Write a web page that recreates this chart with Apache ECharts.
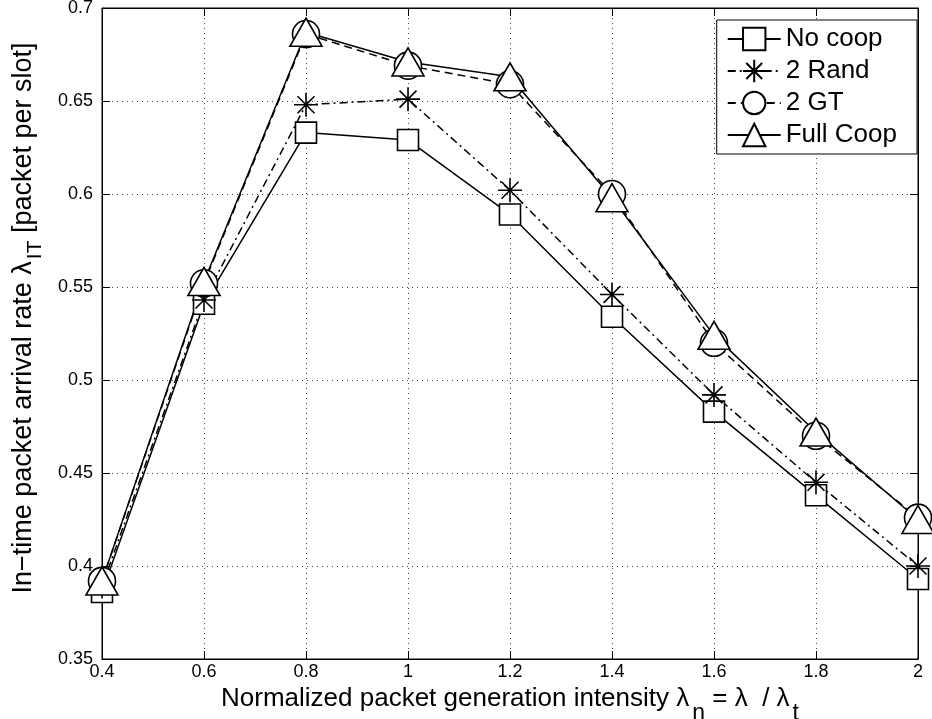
<!DOCTYPE html>
<html>
<head>
<meta charset="utf-8">
<script src="https://cdn.jsdelivr.net/npm/echarts@6/dist/echarts.min.js"></script>
<style>html,body{margin:0;padding:0;background:#fff;}#c{width:932px;height:719px;}</style>
</head>
<body>
<div id="c"></div>
<script>
const xValues = [0.4, 0.6, 0.8, 1.0, 1.2, 1.4, 1.6, 1.8, 2.0];
const noCoop   = [0.386, 0.541, 0.633, 0.629, 0.589, 0.534, 0.483, 0.438, 0.393];
const rand2    = [0.389, 0.543, 0.648, 0.651, 0.602, 0.546, 0.492, 0.445, 0.400];
const gt2      = [0.392, 0.552, 0.686, 0.669, 0.659, 0.600, 0.520, 0.470, 0.426];
const fullCoop = [0.392, 0.553, 0.687, 0.671, 0.663, 0.598, 0.524, 0.472, 0.425];
const seriesNames = ['No coop', '2 Rand', '2 GT', 'Full Coop'];
const xTitle = 'Normalized packet generation intensity λ{sub|n} = λ  / λ{sub|t}';
const yTitle = 'In−time packet arrival rate λ{sub|IT} [packet per slot]';

const FONT = "'Liberation Sans', Arial, Helvetica, sans-serif";
const asterisk = 'path://M10,0L10,20M0,10L20,10M2.93,2.93L17.07,17.07M2.93,17.07L17.07,2.93';

function pairs(ys){ return xValues.map((x,i)=>[x, ys[i]]); }

function mk(name, data, symbol, size, dash){
  return {
    name: name, type: 'line', data: pairs(data),
    symbol: symbol, symbolSize: size,
    xAxisIndex: 0, yAxisIndex: 0,
    color: '#000',
    lineStyle: {color: '#000', width: 1.5, type: dash},
    itemStyle: {color: '#fff', borderColor: '#000', borderWidth: 1.6},
    emphasis: {disabled: true},
    animation: false
  };
}

const chart = echarts.init(document.getElementById('c'), null, {renderer: 'canvas'});
const gridLine = {show: true, lineStyle: {color: '#444', type: [1, 4], width: 1}};
chart.setOption({
  backgroundColor: '#fff',
  textStyle: {fontFamily: FONT},
  grid: {left: 102, right: 14, top: 8, bottom: 60, show: true, borderColor: '#000', borderWidth: 1,
         containLabel: false, outerBoundsMode: 'none'},
  legend: {
    data: seriesNames,
    orient: 'vertical', right: 15, top: 20,
    itemWidth: 53, itemHeight: 28, itemGap: 6,
    padding: [6, 20, 6, 10],
    backgroundColor: '#fff', borderColor: '#000', borderWidth: 1,
    textStyle: {fontSize: 26, color: '#000', fontFamily: FONT}
  },
  graphic: [{
    type: 'text', rotation: Math.PI / 2, x: 24, y: 318, silent: true,
    style: {
      text: yTitle, align: 'center', verticalAlign: 'middle',
      fill: '#000', fontSize: 27, fontFamily: FONT,
      rich: {sub: {fontSize: 21, fill: '#000', fontFamily: FONT, padding: [22, 0, 0, 2]}}
    }
  }],
  xAxis: [{
    type: 'value', min: 0.4, max: 2, interval: 0.2,
    axisLine: {show: true, lineStyle: {color: '#000'}},
    axisTick: {show: true, inside: true, length: 8, lineStyle: {color: '#000'}},
    axisLabel: {color: '#000', fontSize: 18, margin: 4, fontFamily: FONT},
    splitLine: gridLine,
    name: xTitle,
    nameLocation: 'middle', nameGap: -12,
    nameTextStyle: {color: '#000', fontSize: 26, fontFamily: FONT,
      rich: {sub: {fontSize: 23, color: '#000', fontFamily: FONT, padding: [30, 0, 0, 3]}}}
  }, {
    type: 'value', min: 0.4, max: 2, interval: 0.2, position: 'top',
    axisLine: {show: true, lineStyle: {color: '#000'}},
    axisTick: {show: true, inside: true, length: 8, lineStyle: {color: '#000'}},
    axisLabel: {show: false}, splitLine: {show: false}
  }],
  yAxis: [{
    type: 'value', min: 0.35, max: 0.7, interval: 0.05,
    axisLine: {show: true, lineStyle: {color: '#000'}},
    axisTick: {show: true, inside: true, length: 8, lineStyle: {color: '#000'}},
    axisLabel: {color: '#000', fontSize: 18, margin: 9, fontFamily: FONT},
    splitLine: gridLine
  }, {
    type: 'value', min: 0.35, max: 0.7, interval: 0.05, position: 'right',
    axisLine: {show: true, lineStyle: {color: '#000'}},
    axisTick: {show: true, inside: true, length: 8, lineStyle: {color: '#000'}},
    axisLabel: {show: false}, splitLine: {show: false}
  }],
  series: [
    mk(seriesNames[0], noCoop, 'rect', 21, 'solid'),
    mk(seriesNames[1], rand2, asterisk, 24, [8, 4, 2, 4]),
    mk(seriesNames[2], gt2, 'circle', 27, [8, 5]),
    mk(seriesNames[3], fullCoop, 'triangle', [32, 28], 'solid')
  ]
});
</script>
</body>
</html>
